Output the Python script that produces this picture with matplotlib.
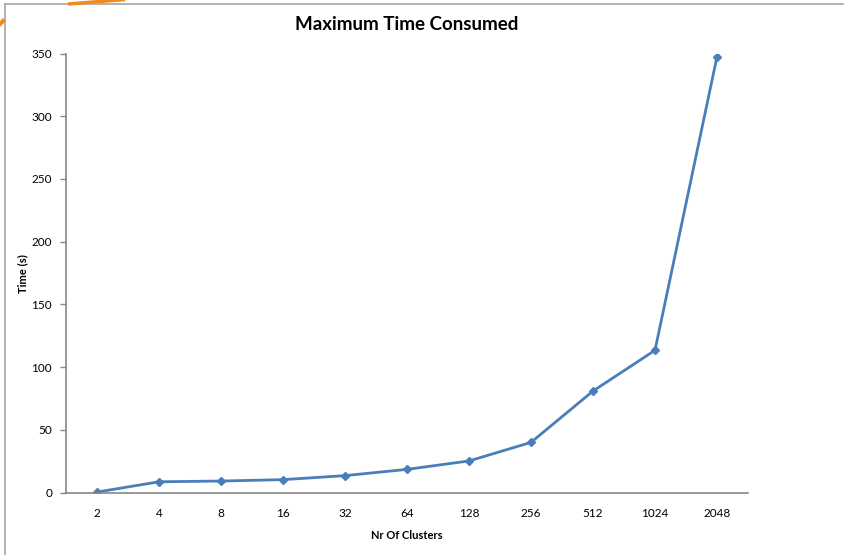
import matplotlib
matplotlib.use("Agg")
import matplotlib.pyplot as plt
from matplotlib.lines import Line2D
import numpy as np

clusters = ["2", "4", "8", "16", "32", "64", "128", "256", "512", "1024", "2048"]
time_s = [0.5, 8.7, 9.3, 10.4, 13.6, 18.6, 25.3, 40.1, 81.0, 113.5, 347.4]
y_ticks = [0, 50, 100, 150, 200, 250, 300, 350]

plt.rcParams["font.family"] = ["Lato", "DejaVu Sans"]

W, H = 844, 555
fig = plt.figure(figsize=(W / 100, H / 100), dpi=100)
fig.patch.set_facecolor("white")

# chart frame and decorative swoosh
fig.add_artist(Line2D([5 / W, 5 / W], [0, 1 - 4 / H], transform=fig.transFigure,
                      color="#a6a6a6", lw=1.2))
fig.add_artist(Line2D([5 / W, 1], [1 - 4 / H, 1 - 4 / H], transform=fig.transFigure,
                      color="#a6a6a6", lw=1.2))
sx = np.linspace(68, 125, 30)
sy = 4 - (sx - 68) / 57 * 4.5
fig.add_artist(Line2D(sx / W, 1 - sy / H, transform=fig.transFigure,
                      color="#f28a1e", lw=2.5, solid_capstyle="butt"))
fig.add_artist(Line2D([0, 3 / W], [1 - 24 / H, 1 - 21 / H], transform=fig.transFigure,
                      color="#f28a1e", lw=3))

left, right = 66 / W, 748 / W
bottom, top = 62.3 / H, 501.5 / H
ax = fig.add_axes([left, bottom, right - left, top - bottom])

x = np.arange(len(clusters))
ax.plot(x, time_s, color="#4a7ebb", lw=2, marker="D", markersize=4.5,
        markerfacecolor="#4a7ebb", markeredgecolor="#4a7ebb")

ax.set_xlim(-0.5, len(clusters) - 0.5)
ax.set_ylim(0, 350)
ax.set_xticks(x)
ax.set_xticklabels(clusters)
ax.set_yticks(y_ticks)

for s in ["top", "right"]:
    ax.spines[s].set_visible(False)
for s in ["left", "bottom"]:
    ax.spines[s].set_color("#888888")
    ax.spines[s].set_linewidth(1.2)

ax.tick_params(axis="x", length=0, pad=11, labelsize=8.5, colors="#000000")
ax.tick_params(axis="y", length=4, width=1, color="#888888", pad=6,
               labelsize=8.5, labelcolor="#000000", direction="out")

ax.set_xlabel("Nr Of Clusters", fontsize=8, fontweight="bold")
ax.xaxis.set_label_coords(0.5, -37.5 / 439.2)
ax.set_ylabel("Time (s)", fontsize=8, fontweight="bold")
ax.yaxis.set_label_coords((28 - 66) / 682, 0.5)

fig.text((66 + 748) / 2 / W, 1 - 25 / H, "Maximum Time Consumed",
         ha="center", va="center", fontsize=13.5, fontweight="bold")

fig.savefig("out.png", dpi=100, facecolor="white")
